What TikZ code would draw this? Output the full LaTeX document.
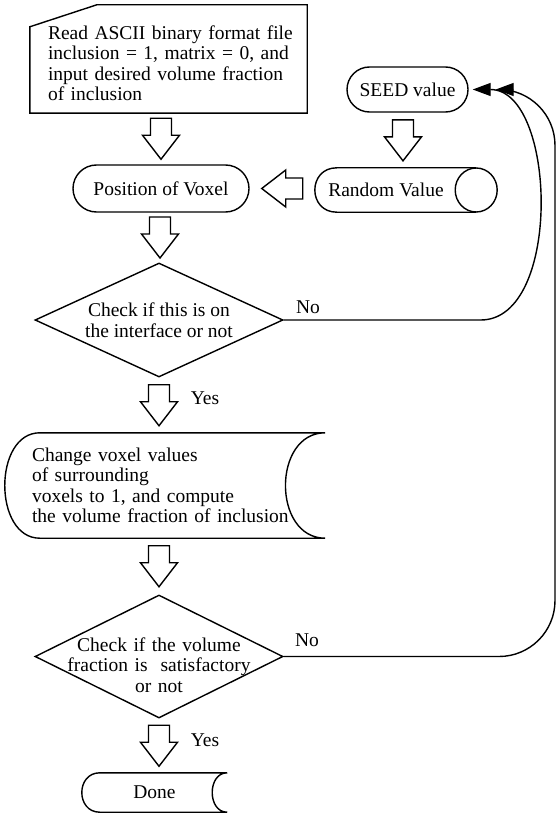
\documentclass[tikz,border=0pt]{standalone}
\usepackage{fontspec}
\setmainfont{Liberation Serif}
\usetikzlibrary{shapes.geometric,shapes.misc,arrows.meta,calc}

% hollow block arrow: #1 angle, #2 from, #3 to
\newcommand{\hollowarrow}[3]{%
  \draw [blockarr, shift={($(#2)!0.5!(#3)$)}, rotate=#1]
    (-20.5,-10.5) -- (-3.5,-10.5) -- (-3.5,-18.5) -- (20.5,0) -- (-3.5,18.5) -- (-3.5,10.5) -- (-20.5,10.5) -- cycle;}

\begin{document}
\begin{tikzpicture}[x=1pt, y=-1pt,
    every node/.style={font=\fontsize{19.5}{20.5}\selectfont},
    line/.style={line width=1.4pt},
    blockarr/.style={line, draw, fill=white, line join=miter},
    term/.style={line, draw, rounded rectangle, inner sep=0pt},
    decision/.style={line, draw, diamond, aspect=2, inner xsep=-30pt, inner ysep=-10pt, align=center},
    feedback/.style={line, -{Triangle[length=18pt,width=13pt]}}]
        \useasboundingbox (0,0) rectangle (556,813);

        \node [text width=258pt, inner xsep=18pt, minimum height=108pt, align=left] (read) at (177,59)
              {\rule{0pt}{22pt}Read ASCII binary format file\\inclusion = 1, matrix = 0, and\\input desired volume fraction\\of inclusion};
        \draw [line] (read.south west) -- ($(read.south east)+(-17,0)$) -- ($(read.north east)+(-17,0)$)
              -- ($(read.north west)+(67,0)$) -- ($(read.north west)+(0,22)$) -- cycle;   % manual input

        \node [term, minimum width=176pt, minimum height=47pt] (pos)  at (161,188.5)   {Position of Voxel};
        \node [term, minimum width=121pt, minimum height=45pt] (seed) at (407.5,89.5)  {SEED value};

        \node [inner sep=0pt, minimum width=182pt, minimum height=44pt] (rand) at (406,190) {Random Value\hspace*{40pt}};
        \draw [line] ($(rand.north east)+(-21,0)$) -- ($(rand.north west)+(22,0)$)
              .. controls +(-29.3,0) and +(-29.3,0) .. ($(rand.south west)+(22,0)$) -- ($(rand.south east)+(-21,0)$);
        \draw [line] ($(rand.east)+(-21,0)$) ellipse [x radius=21, y radius=22];          % cylinder end

        \node [decision, minimum width=248pt, minimum height=114pt] (chk1) at (159,320) {Check if this is on\\the interface or not};

        \node [text width=266pt, inner xsep=27pt, minimum height=105pt, align=left] (change) at (165,485.5)
              {Change voxel values\\of surrounding\\voxels to 1, and compute\\the volume fraction of inclusion};
        \draw [line] ($(change.north west)+(35,0)$) -- (change.north east)
              .. controls +(-53,0) and +(-53,0) .. (change.south east) -- ($(change.south west)+(35,0)$)
              .. controls +(-46.7,0) and +(-46.7,0) .. ($(change.north west)+(35,0)$);        % stored data

        \node [decision, text width=190pt, inner ysep=-25pt, minimum width=248pt, minimum height=123pt] (chk2) at (159,656.5)
              {\rule{0pt}{31pt}Check if the volume\\fraction is\ \ satisfactory\\or not};

        \node [inner sep=0pt, minimum width=145pt, minimum height=39pt] (done) at (154.5,792.5) {Done};
        \draw [line] ($(done.north west)+(18,0)$) -- (done.north east)
              .. controls +(-20,0) and +(-20,0) .. (done.south east) -- ($(done.south west)+(18,0)$)
              .. controls +(-24,0) and +(-24,0) .. ($(done.north west)+(18,0)$);

        % block arrows
        \hollowarrow{-90}{read.south -| pos}{pos.north}
        \hollowarrow{-90}{pos.south}{chk1.north}
        \hollowarrow{-90}{seed.south -| 403,0}{403,168}
        \hollowarrow{180}{pos.east -| rand.west}{pos.east}
        \hollowarrow{-90}{chk1.south}{change.north -| chk1.south}
        \hollowarrow{-90}{change.south -| chk2.north}{chk2.north}
        \hollowarrow{-90}{chk2.south}{done.north -| chk2.south}

        \node (yes1) at (205,398) {Yes};
        \node (yes2) at (205,740) {Yes};
        \node (no1)  at (308,307) {No};
        \node (no2)  at (307,640) {No};

        % back to the seed
        \coordinate (rim) at (555,0);
        \draw [feedback, shorten >=4pt] (chk1.east) -- ++(197,0) .. controls +(82,0) and +(88,0) .. (seed.east);
        \draw [feedback, shorten >=27pt, rounded corners=56pt] (chk2.east) -- (chk2.east -| rim) -- (seed.east -| rim) -- (seed.east);
\end{tikzpicture}
\end{document}
